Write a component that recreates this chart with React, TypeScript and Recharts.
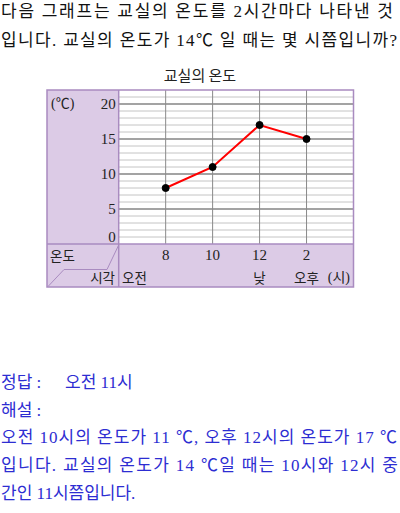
import React from 'react';
import { LineChart, Line, XAxis, YAxis, CartesianGrid, ReferenceLine } from 'recharts';

// ---- data ----
const timePositions = [1, 2, 3, 4];
const timeLabels = ['8', '10', '12', '2'];
const periodLabels = ['', '', '낮', '오후'];
const temperatures = [8, 11, 17, 15];
const yTicks = [0, 5, 10, 15, 20];
const minorGrid = [1, 2, 3, 4, 6, 7, 8, 9, 11, 12, 13, 14, 16, 17, 18, 19, 21];
const majorGrid = [5, 10, 15, 20];

const data = timePositions.map((t, i) => ({ x: t, temp: temperatures[i] }));

const SERIF = "'Liberation Serif', 'Noto Sans CJK KR', serif";
const SANS = "'Noto Sans CJK KR', sans-serif";
const PURPLE_FILL = '#dccbe6';
const PURPLE_LINE = '#a98bc0';
const BLUE = '#2d2dd2';

const renderXTick = (props: any) => {
  const { x, y, payload } = props;
  const i = timePositions.indexOf(payload.value);
  return (
    <g key={`xt-${payload.value}`}>
      <text x={x} y={y + 11} textAnchor="middle" dominantBaseline="central" fontFamily={SERIF} fontSize={15} fill="#222">
        {timeLabels[i]}
      </text>
      {periodLabels[i] ? (
        <text x={x} y={y + 33} textAnchor="middle" dominantBaseline="central" fontFamily={SANS} fontSize={13.5} fill="#222">
          {periodLabels[i]}
        </text>
      ) : null}
    </g>
  );
};

const renderYTick = (props: any) => {
  const { x, y, payload } = props;
  return (
    <text key={`yt-${payload.value}`} x={x - 3} y={payload.value === 0 ? y - 7 : y} textAnchor="end" dominantBaseline="central" fontFamily={SERIF} fontSize={15} fill="#222">
      {payload.value}
    </text>
  );
};

export default function App() {
  return (
    <div style={{ position: 'absolute', left: 0, top: 0, width: 400, height: 513, background: '#fff', overflow: 'hidden' }}>
      {/* panel backgrounds */}
      <div style={{ position: 'absolute', left: 47, top: 90, width: 71.7, height: 197, background: PURPLE_FILL }} />
      <div style={{ position: 'absolute', left: 118.7, top: 244, width: 234.8, height: 43, background: PURPLE_FILL }} />

      <div style={{ position: 'absolute', left: 0, top: 0 }}>
        <LineChart width={400} height={300} data={data} margin={{ top: 90, right: 46.5, bottom: 12, left: 46.7 }}>
          <CartesianGrid horizontal={true} vertical={false} horizontalValues={minorGrid} stroke="#c4c4c4" strokeWidth={1} />
          {majorGrid.map((v) => (
            <ReferenceLine key={`major-${v}`} y={v} stroke="#858585" strokeWidth={1.6} ifOverflow="visible" />
          ))}
          {timePositions.map((v) => (
            <ReferenceLine key={`vert-${v}`} x={v} stroke="#8a8a8a" strokeWidth={1} ifOverflow="visible" />
          ))}
          <XAxis
            dataKey="x"
            type="number"
            domain={[0, 5]}
            ticks={timePositions}
            axisLine={false}
            tickLine={false}
            tickSize={0}
            tickMargin={0}
            height={44}
            tick={renderXTick}
            interval={0}
            allowDataOverflow
          />
          <YAxis
            type="number"
            domain={[0, 22]}
            ticks={yTicks}
            axisLine={false}
            tickLine={false}
            tickSize={0}
            tickMargin={0}
            width={72}
            tick={renderYTick}
            interval={0}
            allowDataOverflow
          />
          <Line
            dataKey="temp"
            stroke="#ff0000"
            strokeWidth={2}
            isAnimationActive={false}
            dot={{ r: 3.5, fill: '#000', stroke: '#000', strokeWidth: 1 }}
            activeDot={false}
          />
        </LineChart>
      </div>

      <svg width={400} height={513} style={{ position: 'absolute', left: 0, top: 0, pointerEvents: 'none' }}>
        <text x={1} y={11} dominantBaseline="central" fontFamily={SERIF} fontSize={17} fill="#111" textLength={392} lengthAdjust="spacing">
          다음 그래프는 교실의 온도를 2시간마다 나타낸 것
        </text>
        <text x={1} y={40} dominantBaseline="central" fontFamily={SERIF} fontSize={17} fill="#111" textLength={396} lengthAdjust="spacing">
          입니다. 교실의 온도가 14℃ 일 때는 몇 시쯤입니까?
        </text>
        <text x={200} y={74} textAnchor="middle" dominantBaseline="central" fontFamily={SANS} fontSize={15} fill="#222">
          교실의 온도
        </text>
        <rect x={47} y={90} width={306.5} height={197} fill="none" stroke={PURPLE_LINE} strokeWidth={1.5} />
        <line x1={118.7} y1={90} x2={118.7} y2={287} stroke={PURPLE_LINE} strokeWidth={1.5} />
        <line x1={47} y1={244} x2={353.5} y2={244} stroke={PURPLE_LINE} strokeWidth={1.5} />
        <polyline points="48,286.5 64,269.5 107,269.5 118.7,245" fill="none" stroke={PURPLE_LINE} strokeWidth={1} />
        <text x={51} y={103} dominantBaseline="central" fontFamily={SERIF} fontSize={14} fill="#222">(℃)</text>
        <text x={50} y={255} dominantBaseline="central" fontFamily={SANS} fontSize={13.5} fill="#222">온도</text>
        <text x={115} y={277} textAnchor="end" dominantBaseline="central" fontFamily={SANS} fontSize={13.5} fill="#222">시각</text>
        <text x={122} y={277} dominantBaseline="central" fontFamily={SANS} fontSize={13.5} fill="#222">오전</text>
        <text x={350} y={277} textAnchor="end" dominantBaseline="central" fontFamily={SERIF} fontSize={14} fill="#222">(시)</text>
        <text x={1} y={382} dominantBaseline="central" fontFamily={SERIF} fontSize={17} fill={BLUE}>정답 :</text>
        <text x={65} y={382} dominantBaseline="central" fontFamily={SERIF} fontSize={17} fill={BLUE}>오전 11시</text>
        <text x={1} y={410} dominantBaseline="central" fontFamily={SERIF} fontSize={17} fill={BLUE}>해설 :</text>
        <text x={1} y={437} dominantBaseline="central" fontFamily={SERIF} fontSize={17} fill={BLUE} textLength={396} lengthAdjust="spacing">
          오전 10시의 온도가 11 ℃, 오후 12시의 온도가 17 ℃
        </text>
        <text x={1} y={465} dominantBaseline="central" fontFamily={SERIF} fontSize={17} fill={BLUE} textLength={397} lengthAdjust="spacing">
          입니다. 교실의 온도가 14 ℃일 때는 10시와 12시 중
        </text>
        <text x={1} y={493} dominantBaseline="central" fontFamily={SERIF} fontSize={17} fill={BLUE}>간인 11시쯤입니다.</text>
      </svg>
    </div>
  );
}
